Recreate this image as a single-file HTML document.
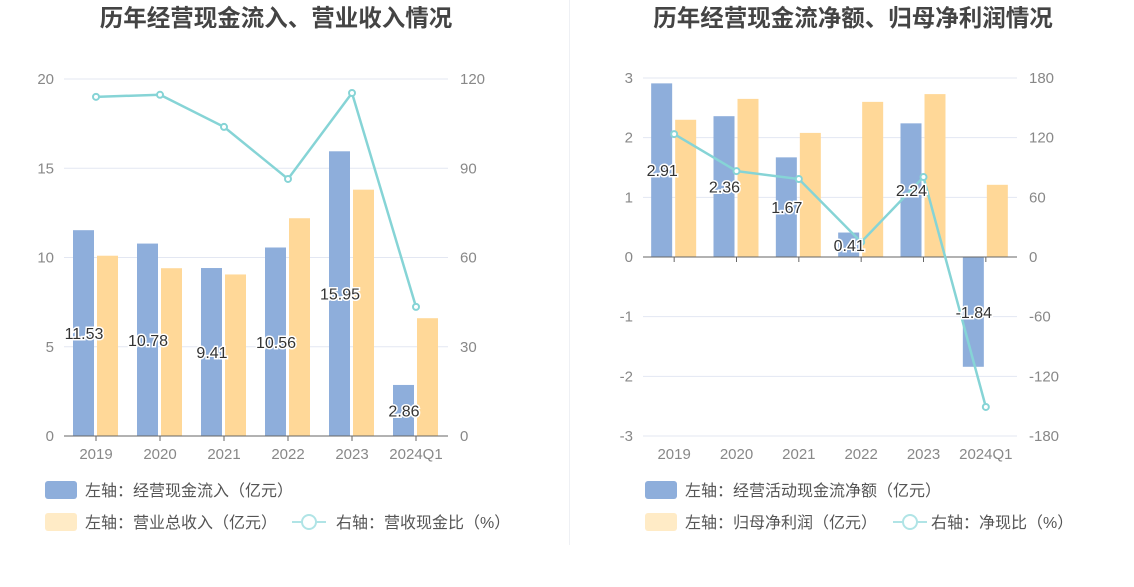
<!DOCTYPE html>
<html><head><meta charset="utf-8">
<style>
body{margin:0;background:#fff;width:1134px;height:582px;overflow:hidden;font-family:"Liberation Sans","Noto Sans CJK SC",sans-serif;}
svg text{font-family:"Liberation Sans","Noto Sans CJK SC",sans-serif;}
</style></head>
<body>
<svg id="s" width="1134" height="582" xmlns="http://www.w3.org/2000/svg">
<line x1="569.5" y1="0" x2="569.5" y2="545" stroke="#eef0f4" stroke-width="1"/>
<text x="276" y="26" text-anchor="middle" font-size="23.5" font-weight="bold" fill="#444">历年经营现金流入、营业收入情况</text>
<text x="853" y="26" text-anchor="middle" font-size="23.5" font-weight="bold" fill="#444">历年经营现金流净额、归母净利润情况</text>
<g id="g1"></g><g id="g2"></g>
<g>
<rect x="45" y="481" width="32" height="18" rx="3" fill="#8eaedb"/>
<text x="85" y="496" font-size="16" fill="#555">左轴：经营现金流入（亿元）</text>
<rect x="45" y="513" width="32" height="18" rx="3" fill="#ffebc6"/>
<text x="85" y="528" font-size="16" fill="#555">左轴：营业总收入（亿元）</text>
<line x1="292" y1="522" x2="326" y2="522" stroke="#b0e4e6" stroke-width="2"/>
<circle cx="309" cy="522" r="7" fill="#fff" stroke="#b0e4e6" stroke-width="2"/>
<text x="336" y="528" font-size="16" fill="#555">右轴：营收现金比（%）</text>
</g>
<g>
<rect x="645" y="481" width="32" height="18" rx="3" fill="#8eaedb"/>
<text x="685" y="496" font-size="16" fill="#555">左轴：经营活动现金流净额（亿元）</text>
<rect x="645" y="513" width="32" height="18" rx="3" fill="#ffebc6"/>
<text x="685" y="528" font-size="16" fill="#555">左轴：归母净利润（亿元）</text>
<line x1="893" y1="522" x2="927" y2="522" stroke="#b0e4e6" stroke-width="2"/>
<circle cx="910" cy="522" r="7" fill="#fff" stroke="#b0e4e6" stroke-width="2"/>
<text x="931" y="528" font-size="16" fill="#555">右轴：净现比（%）</text>
</g>
</svg>
<script>
const categories=["2019","2020","2021","2022","2023","2024Q1"];
const cashInflow=[11.53,10.78,9.41,10.56,15.95,2.86];
const revenue=[10.1,9.4,9.05,12.2,13.8,6.6];
const revenueCashRatio=[114,114.7,103.9,86.4,115.3,43.4];
const leftTicks1=[0,5,10,15,20];
const rightTicks1=[0,30,60,90,120];
const netCash=[2.91,2.36,1.67,0.41,2.24,-1.84];
const netProfit=[2.30,2.65,2.08,2.60,2.73,1.21];
const netCashRatio=[123.6,86.4,78.4,15,80.4,-150.8];
const leftTicks2=[-3,-2,-1,0,1,2,3];
const rightTicks2=[-180,-120,-60,0,60,120,180];

const NS="http://www.w3.org/2000/svg";
function mk(p,t,a){const e=document.createElementNS(NS,t);for(const k in a)e.setAttribute(k,a[k]);p.appendChild(e);return e;}

function draw(g,o){
  const x0=o.x0,x1=o.x1,yT=o.yT,yB=o.yB,n=categories.length,bw=(x1-x0)/n;
  const yL=v=>yB-(v-o.lmin)/(o.lmax-o.lmin)*(yB-yT);
  const yR=v=>yB-(v-o.rmin)/(o.rmax-o.rmin)*(yB-yT);
  const cx=i=>x0+bw*(i+0.5);
  o.lt.forEach((t,i)=>{
    const y=yL(t);
    const gl=mk(g,'line',{x1:x0,x2:x1,y1:y,y2:y,stroke:'#e3e7f2','stroke-width':1});
    
    
    const lt=mk(g,'text',{x:x0-10,y:y+5,'text-anchor':'end','font-size':15,fill:'#888'});lt.textContent=t;
    
    
    const rt=mk(g,'text',{x:x1+12,y:y+5,'font-size':15,fill:'#888'});rt.textContent=o.rt[i];
    
    
  });
  const y0=yL(0);
  for(let i=0;i<n;i++){
    const c=cx(i),v=o.a[i],b=o.b[i];
    const r1=mk(g,'rect',{x:c-23,y:Math.min(yL(v),y0),width:21,height:Math.abs(yL(v)-y0),fill:'#8eaedb'});
    
    
    const r2=mk(g,'rect',{x:c+1,y:Math.min(yL(b),y0),width:21,height:Math.abs(yL(b)-y0),fill:'#ffd898'});
    
    
  }
  mk(g,'line',{x1:x0,x2:x1,y1:y0,y2:y0,stroke:'#666','stroke-width':1});
  for(let i=0;i<n;i++){
    mk(g,'line',{x1:cx(i),x2:cx(i),y1:y0,y2:y0+5,stroke:'#666'});
    const xt=mk(g,'text',{x:cx(i),y:yB+23,'text-anchor':'middle','font-size':15,fill:'#888'});xt.textContent=categories[i];
    
    
  }
  const pts=o.r.map((v,i)=>cx(i)+','+yR(v)).join(' ');
  const pl=mk(g,'polyline',{points:pts,fill:'none',stroke:'#86d4d6','stroke-width':2.5});
  
  
  o.r.forEach((v,i)=>{
    const p=mk(g,'circle',{cx:cx(i),cy:yR(v),r:3,fill:'#fff',stroke:'#86d4d6','stroke-width':2});
    
    
  });
  o.a.forEach((v,i)=>{
    const t=mk(g,'text',{x:cx(i)-12,y:(yL(v)+y0)/2+6,'text-anchor':'middle','font-size':16,fill:'#333',stroke:'#fff','stroke-width':3,'paint-order':'stroke'});
    t.textContent=v.toFixed(2);
    
    
  });
}
draw(document.getElementById('g1'),{x0:64,x1:448,yT:79,yB:436,lmin:0,lmax:20,rmin:0,rmax:120,lt:leftTicks1,rt:rightTicks1,a:cashInflow,b:revenue,r:revenueCashRatio});
draw(document.getElementById('g2'),{x0:643,x1:1017,yT:78,yB:436,lmin:-3,lmax:3,rmin:-180,rmax:180,lt:leftTicks2,rt:rightTicks2,a:netCash,b:netProfit,r:netCashRatio});
</script>
</body></html>
